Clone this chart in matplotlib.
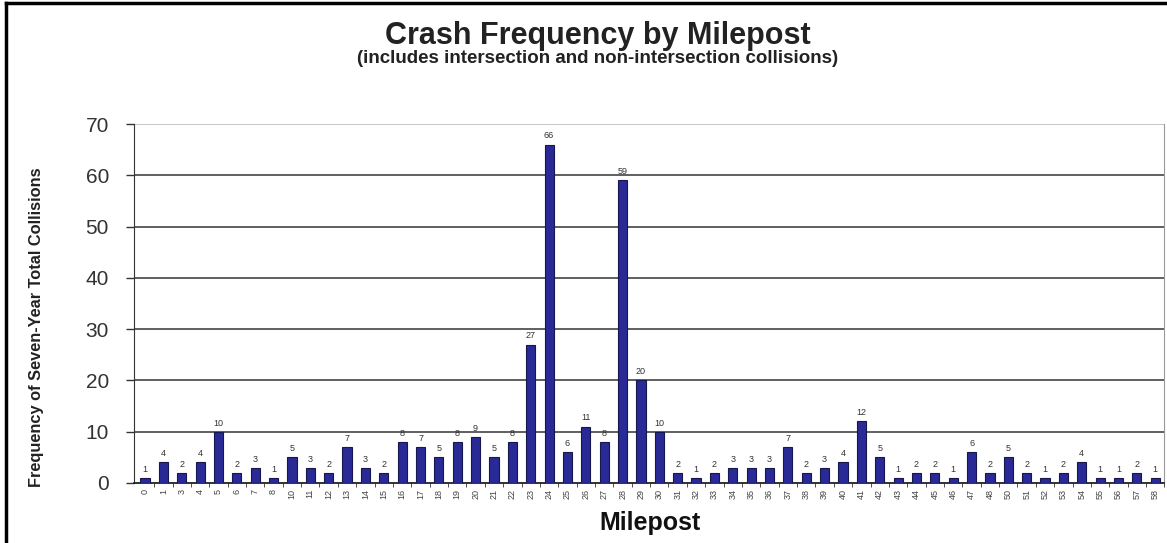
import numpy as np
import matplotlib.pyplot as plt
from matplotlib.lines import Line2D

plt.rcParams['font.family'] = ['Liberation Sans', 'DejaVu Sans']

## Crash frequency by milepost

mileposts = ['0', '1', '3', '4', '5', '6', '7', '8', '10', '11', '12', '13', '14',
             '15', '16', '17', '18', '19', '20', '21', '22', '23', '24', '25', '26',
             '27', '28', '29', '30', '31', '32', '33', '34', '35', '36', '37', '38',
             '39', '40', '41', '42', '43', '44', '45', '46', '47', '48', '50', '51',
             '52', '53', '54', '55', '56', '57', '58']
crashes = [1, 4, 2, 4, 10, 2, 3, 1, 5, 3, 2, 7, 3,
           2, 8, 7, 5, 8, 9, 5, 8, 27, 66, 6, 11,
           8, 59, 20, 10, 2, 1, 2, 3, 3, 3, 7, 2,
           3, 4, 12, 5, 1, 2, 2, 1, 6, 2, 5, 2,
           1, 2, 4, 1, 1, 2, 1]
yticks = [0, 10, 20, 30, 40, 50, 60, 70]

fig = plt.figure(figsize=(11.67, 5.43), dpi=100)
ax = fig.add_axes([0.1148, 0.1105, 0.883, 0.6611])

x = np.arange(len(mileposts))
ax.bar(x, crashes, width=0.5, color='#2a2a96', edgecolor='#17174f', linewidth=0.8, zorder=3)
for xi, v in zip(x, crashes):
    ax.text(xi, v + 0.8, str(v), ha='center', va='bottom', fontsize=6.5, color='#333333')

ax.set_xlim(-0.6, 55.5)
ax.set_ylim(0, 70)
ax.set_yticks(yticks)
ax.set_yticklabels([str(t) for t in yticks], fontsize=15, color='#333333')
ax.set_xticks(x)
ax.set_xticklabels(mileposts, rotation=90, fontsize=6.5, color='#444444')
ax.set_xticks(x + 0.5, minor=True)
ax.tick_params(axis='x', which='major', length=0, pad=4)
ax.tick_params(axis='x', which='minor', length=3, color='#333333')
ax.tick_params(axis='y', length=6, color='#333333', width=1, pad=12)

for v in yticks[1:-1]:
    ax.axhline(v, color='#444444', linewidth=1.2, zorder=1)
ax.axhline(70, color='#bbbbbb', linewidth=1.2, zorder=1)

ax.spines['top'].set_visible(False)
ax.spines['right'].set_color('#999999')
ax.spines['left'].set_color('#333333')
ax.spines['bottom'].set_color('#222222')
ax.spines['bottom'].set_linewidth(1.3)

fig.text(0.512, 0.934, 'Crash Frequency by Milepost', ha='center', va='center',
         fontsize=22, fontweight='bold', color='#222222')
fig.text(0.512, 0.893, '(includes intersection and non-intersection collisions)',
         ha='center', va='center', fontsize=13.5, fontweight='bold', color='#222222')
fig.text(0.557, 0.036, 'Milepost', ha='center', va='center',
         fontsize=18, fontweight='bold', color='#111111')
fig.text(0.031, 0.398, 'Frequency of Seven-Year Total Collisions', ha='center',
         va='center', rotation=90, fontsize=11.8, fontweight='bold', color='#222222')

# outer frame
fig.add_artist(Line2D([0.005, 0.005], [0, 0.995], transform=fig.transFigure,
                      color='black', linewidth=2.5))
fig.add_artist(Line2D([0.005, 0.999], [0.995, 0.995], transform=fig.transFigure,
                      color='black', linewidth=2.5))

fig.savefig('out.png', dpi=100)
